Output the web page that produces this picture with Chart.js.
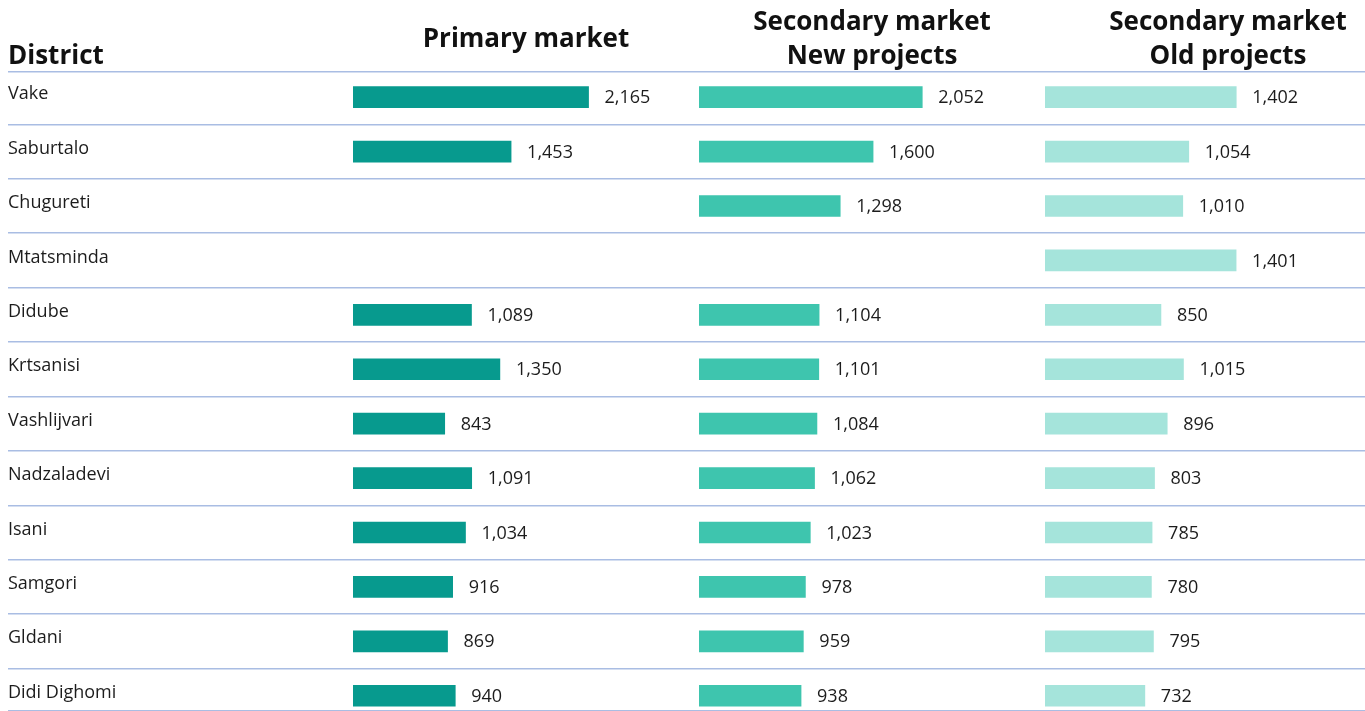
<!DOCTYPE html>
<html>
<head>
<meta charset="utf-8">
<script src="https://cdn.jsdelivr.net/npm/chart.js@4.4.0/dist/chart.umd.min.js"></script>
<style>
  html, body { margin: 0; padding: 0; background: #fff; overflow: hidden; }
  #wrap { width: 1419px; height: 711px; }
</style>
</head>
<body>
<div id="wrap"><canvas id="priceChart"></canvas></div>
<script>
// Price per sq.m by district
const districts = ['Vake', 'Saburtalo', 'Chugureti', 'Mtatsminda', 'Didube', 'Krtsanisi',
  'Vashlijvari', 'Nadzaladevi', 'Isani', 'Samgori', 'Gldani', 'Didi Dighomi'];
const primaryMarket = [2165, 1453, null, null, 1089, 1350, 843, 1091, 1034, 916, 869, 940];
const newProjects = [2052, 1600, 1298, null, 1104, 1101, 1084, 1062, 1023, 978, 959, 938];
const oldProjects = [1402, 1054, 1010, 1401, 850, 1015, 896, 803, 785, 780, 795, 732];

const FONT = '"Open Sans", "Noto Sans", sans-serif';
const GRID = '#a9bde3';
const TEXT = '#1c1c1c';

// bars sit on a linear index axis so the row separators can fall between them
function toPoints(values) {
  return values.map((v, i) => ({ x: v, y: i })).filter(p => p.x !== null);
}

const headFont = { family: FONT, size: 26, weight: 'bold', lineHeight: 1.31 };

function column(weight, max, text, pad, align) {
  return {
    type: 'linear',
    position: 'top',
    stack: 'cols',
    stackWeight: weight,
    min: 0,
    max: max,
    grid: { display: false, drawTicks: false, tickLength: 0 },
    border: { display: false },
    ticks: { display: false },
    title: { display: true, text: text, align: align || 'center', color: '#111', font: headFont, padding: pad }
  };
}

// District names on the left, values after each bar
const rowText = {
  id: 'rowText',
  afterDatasetsDraw(chart) {
    const ctx = chart.ctx;
    const y = chart.scales.y;
    ctx.save();
    ctx.fillStyle = TEXT;
    ctx.font = '18px ' + FONT;
    ctx.textBaseline = 'middle';
    ctx.textAlign = 'left';
    districts.forEach((name, i) => {
      ctx.fillText(name, chart.chartArea.left, y.getPixelForValue(i) - 3);
    });
    chart.data.datasets.forEach((ds, di) => {
      chart.getDatasetMeta(di).data.forEach((bar, j) => {
        ctx.fillText(ds.data[j].x.toLocaleString('en-US'), bar.x + 16, bar.y + 1);
      });
    });
    ctx.restore();
  }
};

const ctx = document.getElementById('priceChart').getContext('2d');
new Chart(ctx, {
  type: 'bar',
  data: {
    datasets: [
      { label: 'Primary market', data: toPoints(primaryMarket), xAxisID: 'x1', backgroundColor: '#079a8e' },
      { label: 'Secondary market, new projects', data: toPoints(newProjects), xAxisID: 'x2', backgroundColor: '#3ec5ae' },
      { label: 'Secondary market, old projects', data: toPoints(oldProjects), xAxisID: 'x3', backgroundColor: '#a5e4db' }
    ]
  },
  options: {
    indexAxis: 'y',
    responsive: true,
    maintainAspectRatio: false,
    animation: false,
    layout: { padding: { left: 8, right: 8, top: 0, bottom: 0 } },
    datasets: { bar: { barThickness: 21, borderWidth: 0, grouped: false } },
    scales: {
      y: {
        type: 'linear',
        position: 'left',
        reverse: true,
        offset: false,
        min: -0.46,
        max: 11.28,
        afterBuildTicks(scale) {
          const vals = [scale.min];
          for (let i = 1; i < districts.length; i++) vals.push(i - 0.5);
          vals.push(scale.max);
          scale.ticks = vals.map(v => ({ value: v }));
        },
        ticks: { display: false },
        grid: { color: GRID, lineWidth: 1.5, drawTicks: false, tickLength: 0, offset: false },
        border: { display: false }
      },
      // top axes are laid out right to left, so the last column comes first
      x3: column(366, 2683, ['Secondary market', 'Old projects'], { top: 6, bottom: -2 }),
      x2: column(346, 3180, ['Secondary market', 'New projects'], { top: 6, bottom: -2 }),
      x1: column(346, 3180, 'Primary market', { top: 23, bottom: 15 }),
      xd: column(345, 1, 'District', { top: 40, bottom: -2 }, 'start')
    },
    plugins: {
      legend: { display: false },
      tooltip: { enabled: false }
    }
  },
  plugins: [rowText]
});
</script>
</body>
</html>
